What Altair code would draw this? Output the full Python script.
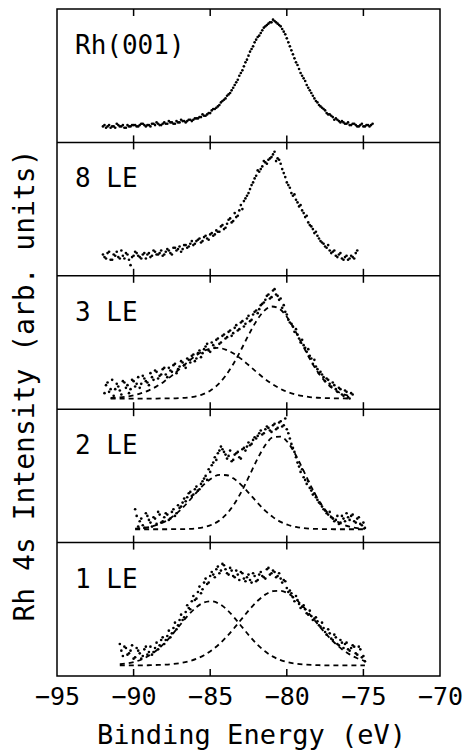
import altair as alt
import numpy as np
import pandas as pd

# ---------------- data (intensity in % of a panel's height) ----------------
STEP = 0.2

rh001_start = -92.0
rh001 = [12, 11, 13, 12, 11, 13, 12, 11, 13, 12, 13, 12, 13, 14, 12, 13, 14, 13, 14, 13,
         15, 14, 15, 14, 16, 15, 16, 15, 17, 16, 18, 18, 19, 20, 21, 22, 25, 26, 28, 31,
         33, 36, 39, 43, 47, 52, 57, 62, 68, 72, 77, 80, 84, 87, 89, 90, 91, 89, 87, 83,
         78, 72, 66, 60, 55, 50, 46, 41, 37, 33, 30, 27, 25, 22, 21, 19, 18, 16, 16, 14,
         15, 13, 14, 12, 13, 12, 13, 12, 14]
rh001_mid = [13, 12, 11, 12, 14, 12, 13, 11, 12, 13, 13, 12, 14, 13, 13, 12, 14, 15, 13, 14,
             14, 16, 15, 14, 15, 17, 16, 16, 17, 17, 18, 19, 21, 20, 22, 24, 25, 27, 30, 32,
             35, 37, 41, 45, 50, 54, 60, 65, 70, 75, 79, 82, 86, 88, 90, 92, 90, 88, 85, 81,
             75, 69, 63, 58, 52, 48, 43, 39, 35, 31, 28, 26, 24, 21, 20, 17, 17, 15, 15, 14,
             13, 14, 13, 12, 14, 12, 13, 13]

le8_start = -92.0
le8 = [16, 13, 18, 12, 15, 14, 19, 13, 16, 8, 15, 17, 14, 16, 13, 17, 15, 18, 16, 19,
       16, 20, 17, 21, 19, 22, 20, 23, 22, 26, 24, 27, 25, 29, 28, 31, 30, 34, 33, 38,
       36, 42, 40, 47, 45, 53, 56, 60, 65, 70, 75, 78, 82, 85, 87, 89, 93, 88, 84, 77,
       70, 66, 60, 57, 52, 49, 44, 40, 37, 32, 30, 26, 24, 21, 19, 18, 15, 16, 13, 14,
       12, 15, 13, 19]
le8_mid = [14, 17, 12, 16, 18, 13, 15, 17, 12, 14, 18, 15, 13, 17, 16, 14, 19, 16, 17, 15,
           18, 19, 16, 21, 20, 18, 23, 21, 24, 23, 26, 28, 26, 30, 27, 32, 31, 33, 37, 35,
           39, 43, 41, 44, 49, 50, 58, 62, 68, 73, 79, 80, 86, 84, 88, 91, 86, 87, 80, 74,
           68, 62, 61, 55, 53, 47, 45, 38, 35, 33, 28, 25, 22, 23, 17, 19, 14, 17, 12, 15,
           13, 14, 17]

le3_start = -91.9
le3 = [12, 20, 15, 10, 19, 14, 21, 16, 12, 22, 17, 24, 19, 23, 20, 27, 22, 28, 25, 30,
       26, 31, 28, 34, 30, 36, 33, 38, 35, 41, 38, 44, 42, 47, 44, 50, 46, 53, 50, 56,
       54, 59, 57, 63, 60, 66, 64, 70, 67, 73, 72, 78, 80, 85, 83, 89, 86, 82, 76, 73,
       67, 64, 58, 56, 50, 48, 43, 40, 34, 32, 27, 26, 21, 22, 17, 18, 13, 15, 10, 13,
       8, 11]
le3_mid = [18, 13, 22, 15, 17, 11, 20, 18, 15, 21, 19, 16, 25, 21, 18, 24, 29, 23, 26, 31,
           24, 29, 33, 27, 32, 35, 31, 37, 40, 36, 42, 39, 45, 49, 43, 48, 52, 49, 55, 53,
           58, 55, 61, 59, 65, 62, 68, 66, 71, 74, 75, 79, 82, 86, 84, 90, 85, 83, 78, 71,
           65, 62, 60, 53, 52, 46, 45, 38, 37, 30, 28, 24, 23, 19, 20, 15, 16, 11, 14, 9,
           12]

le2_start = -89.9
le2 = [25, 12, 18, 11, 20, 15, 19, 14, 21, 16, 22, 17, 23, 20, 28, 27, 33, 34, 38, 36,
       42, 40, 46, 50, 55, 58, 64, 67, 72, 68, 63, 69, 62, 67, 64, 70, 69, 75, 74, 79,
       80, 84, 82, 87, 84, 88, 85, 90, 87, 93, 82, 74, 68, 60, 53, 49, 44, 41, 36, 34,
       30, 27, 24, 21, 19, 16, 20, 15, 18, 22, 17, 21, 15, 19, 13, 11]
le2_mid = [20, 16, 13, 22, 17, 12, 18, 23, 15, 19, 21, 18, 25, 22, 26, 30, 31, 37, 35, 40,
           39, 44, 48, 47, 53, 60, 62, 69, 70, 66, 65, 61, 66, 68, 63, 71, 72, 73, 77, 78,
           82, 81, 85, 86, 83, 89, 86, 91, 88, 85, 78, 71, 64, 57, 55, 47, 46, 39, 37, 32,
           29, 25, 22, 23, 18, 17, 14, 20, 16, 19, 20, 16, 18, 14, 15]

le1_start = -90.9
le1 = [24, 15, 21, 17, 23, 14, 19, 13, 20, 16, 22, 18, 25, 23, 29, 27, 34, 32, 40, 38,
       46, 44, 53, 50, 60, 58, 67, 65, 73, 70, 78, 74, 82, 79, 83, 77, 81, 75, 79, 72,
       77, 71, 76, 70, 75, 72, 78, 74, 80, 76, 79, 74, 77, 70, 71, 63, 62, 56, 57, 51,
       53, 47, 49, 42, 44, 38, 40, 33, 35, 28, 31, 24, 27, 21, 25, 19, 23, 17, 22, 14,
       11]
le1_mid = [19, 22, 16, 19, 13, 21, 17, 15, 22, 18, 16, 21, 20, 27, 24, 30, 29, 36, 35, 42,
           42, 48, 51, 56, 57, 63, 62, 70, 69, 75, 76, 80, 77, 84, 80, 76, 79, 74, 76, 78,
           73, 74, 72, 77, 71, 76, 75, 73, 81, 77, 78, 75, 73, 72, 66, 64, 59, 60, 54, 52,
           50, 46, 45, 43, 41, 37, 36, 31, 32, 27, 29, 23, 25, 24, 20, 21, 22, 16, 20, 15]

# fitted components (dashed), 0.5 eV grid
FIT_STEP = 0.5
fit3_start = -91.5
fit3_left = [8.4, 8.8, 9.4, 10.4, 12.0, 14.1, 17.1, 20.8, 25.2, 30.1, 35.0, 39.6, 43.2, 45.4,
             46.0, 44.7, 41.9, 37.9, 33.1, 28.1, 23.3, 19.2, 15.8, 13.1, 11.3, 10.0, 9.1, 8.6,
             8.3, 8.2, 8.1, 8.0]
fit3_right = [8.0, 8.0, 8.0, 8.0, 8.0, 8.0, 8.0, 8.1, 8.1, 8.3, 8.7, 9.5, 11.1, 13.9, 18.4,
              25.0, 33.7, 44.2, 55.5, 65.8, 73.5, 77.0, 75.4, 69.3, 59.8, 48.7, 37.8, 28.2,
              20.8, 15.5, 12.1, 10.1]

fit2_start = -89.9
fit2_left = [10.5, 11.0, 11.9, 13.6, 16.1, 19.9, 24.9, 31.0, 37.5, 43.6, 48.3, 50.8, 50.5,
             47.5, 42.4, 36.2, 29.7, 23.8, 19.1, 15.5, 13.2, 11.7, 10.8, 10.4, 10.2, 10.1,
             10.0, 10.0, 10.0, 10.0, 10.0]
fit2_right = [10.0, 10.0, 10.0, 10.0, 10.0, 10.1, 10.1, 10.3, 10.7, 11.6, 13.4, 16.6, 21.8,
              29.5, 39.5, 51.2, 63.1, 73.1, 79.0, 79.5, 74.6, 65.3, 53.7, 41.8, 31.3, 23.2,
              17.5, 13.9, 11.9, 10.8, 10.4]

fit1_start = -90.9
fit1_left = [8.8, 9.5, 10.7, 12.8, 15.9, 20.1, 25.6, 32.2, 39.2, 46.0, 51.6, 55.1, 56.0, 54.0,
             49.6, 43.4, 36.4, 29.5, 23.3, 18.3, 14.5, 11.9, 10.2, 9.2, 8.6, 8.3, 8.1, 8.0,
             8.0, 8.0, 8.0, 8.0, 8.0]
fit1_right = [8.0, 8.0, 8.0, 8.0, 8.1, 8.3, 8.5, 9.0, 9.8, 11.0, 12.9, 15.6, 19.3, 24.0, 29.8,
              36.4, 43.4, 50.3, 56.4, 61.0, 63.6, 63.8, 61.7, 57.4, 51.6, 44.8, 37.7, 31.0,
              25.1, 20.1, 16.2, 13.3, 11.3]

panel_names = ["1 LE", "2 LE", "3 LE", "8 LE", "Rh(001)"]   # bottom -> top
x_ticks = [-95, -90, -85, -80, -75, -70]

# ---------------- tables ----------------
def series(start, step, vals, base, key):
    e = np.round(start + step * np.arange(len(vals)), 2)
    return pd.DataFrame({"E": e, "y": base + np.array(vals) / 100.0, "key": key})

half = STEP / 2
pts = pd.concat([
    series(le1_start, STEP, le1, 0, "1"),
    series(le1_start + half, STEP, le1_mid, 0, "1m"),
    series(le2_start, STEP, le2, 1, "2"),
    series(le2_start + half, STEP, le2_mid, 1, "2m"),
    series(le3_start, STEP, le3, 2, "3"),
    series(le3_start + half, STEP, le3_mid, 2, "3m"),
    series(le8_start, STEP, le8, 3, "8"),
    series(le8_start + half, STEP, le8_mid, 3, "8m"),
    series(rh001_start, STEP, rh001, 4, "rh"),
    series(rh001_start + half, STEP, rh001_mid, 4, "rhm"),
], ignore_index=True)

fits = pd.concat([
    series(fit1_start, FIT_STEP, fit1_left, 0, "1L"),
    series(fit1_start, FIT_STEP, fit1_right, 0, "1R"),
    series(fit2_start, FIT_STEP, fit2_left, 1, "2L"),
    series(fit2_start, FIT_STEP, fit2_right, 1, "2R"),
    series(fit3_start, FIT_STEP, fit3_left, 2, "3L"),
    series(fit3_start, FIT_STEP, fit3_right, 2, "3R"),
], ignore_index=True)

bounds = pd.DataFrame({"y": [1, 2, 3, 4]})
ticks = pd.DataFrame([{"E": t, "y": b} for t in x_ticks[1:-1] for b in range(6)])
labels = pd.DataFrame({"y": [i + 1 for i in range(5)], "name": panel_names})

FONT = "DejaVu Sans Mono"
W, H = 383, 667

X = alt.X("E:Q", scale=alt.Scale(domain=[-95, -70], nice=False, zero=False),
          axis=alt.Axis(values=x_ticks, format="d", title="Binding Energy (eV)",
                        grid=False, ticks=False, domain=False,
                        labelFont=FONT, labelFontSize=25, labelColor="black",
                        labelPadding=8, labelFlush=False,
                        titleFont=FONT, titleFontSize=27, titleFontWeight="normal",
                        titleColor="black", titleX=194, titleY=67,
                        titleBaseline="alphabetic", titleAlign="center"))
Y = alt.Y("y:Q", scale=alt.Scale(domain=[0, 5], nice=False, zero=False),
          axis=alt.Axis(title="Rh 4s Intensity (arb. units)", labels=False, ticks=False,
                        grid=False, domain=False,
                        titleFont=FONT, titleFontSize=28, titleFontWeight="normal",
                        titleColor="black", titleAngle=270, titleX=-24, titleY=376,
                        titleBaseline="alphabetic", titleAlign="center"))

points = alt.Chart(pts).mark_circle(size=7, color="black", opacity=1).encode(x=X, y=Y)

lines = alt.Chart(fits).mark_line(color="black", strokeWidth=1.8, strokeDash=[5, 4],
                                  interpolate="monotone").encode(x=X, y=Y, detail="key:N")

seps = alt.Chart(bounds).mark_rule(color="black", strokeWidth=1.5).encode(y=Y)

tickmarks = alt.Chart(ticks).mark_rule(color="black", strokeWidth=1.5, yOffset=-7,
                                       y2Offset=7, clip=True).encode(
    x=X, y=Y, y2=alt.Y2("y"))

texts = alt.Chart(labels).mark_text(align="left", baseline="alphabetic", font=FONT,
                                    fontSize=26, color="black", dy=45).encode(
    x=alt.value(18), y=Y, text="name:N")

chart = alt.layer(lines, points, seps, tickmarks, texts).properties(
    width=W, height=H,
    autosize=alt.AutoSizeParams(type="none"),
    padding={"left": 57, "top": 9, "right": 29, "bottom": 77},
    background="white",
).configure_view(stroke="black", strokeWidth=1.5)

chart.save("out.html", embed_options={"renderer": "svg", "actions": False})
